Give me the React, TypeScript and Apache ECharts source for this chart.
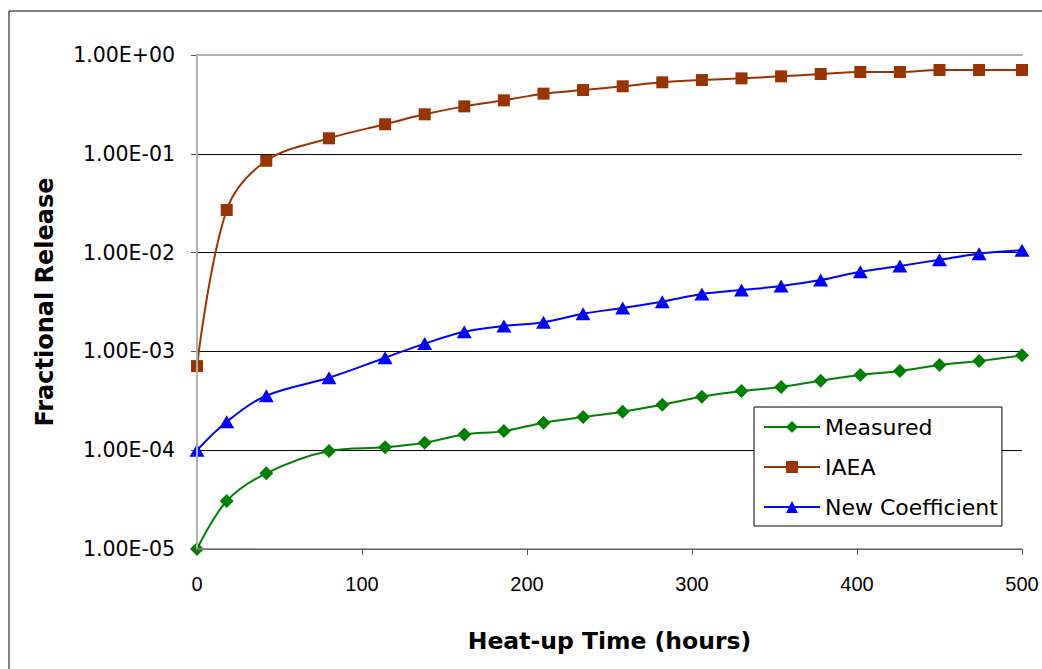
import React, { useEffect, useRef } from "react";
import * as echarts from "echarts";

const hours = [0, 18, 42, 80, 114, 138, 162, 186, 210, 234, 258, 282, 306, 330, 354, 378, 402, 426, 450, 474, 500];

const measured = [1.0e-5, 3.06e-5, 5.84e-5, 9.8e-5, 1.07e-4, 1.19e-4, 1.44e-4, 1.56e-4, 1.9e-4, 2.17e-4, 2.45e-4, 2.89e-4, 3.48e-4, 3.97e-4, 4.36e-4, 5.05e-4, 5.77e-4, 6.33e-4, 7.28e-4, 8.0e-4, 9.12e-4];

const iaea = [7.1e-4, 0.027, 0.085, 0.1435, 0.199, 0.251, 0.302, 0.348, 0.406, 0.442, 0.482, 0.529, 0.558, 0.58, 0.608, 0.642, 0.673, 0.673, 0.705, 0.705, 0.705];

const newCoefficient = [1.0e-4, 1.94e-4, 3.56e-4, 5.42e-4, 8.63e-4, 1.2e-3, 1.58e-3, 1.81e-3, 1.97e-3, 2.41e-3, 2.75e-3, 3.18e-3, 3.81e-3, 4.18e-3, 4.59e-3, 5.28e-3, 6.41e-3, 7.32e-3, 8.47e-3, 9.75e-3, 1.055e-2];

const yTickLabels: Record<number, string> = {
  [-5]: "1.00E-05",
  [-4]: "1.00E-04",
  [-3]: "1.00E-03",
  [-2]: "1.00E-02",
  [-1]: "1.00E-01",
  0: "1.00E+00",
};

const seriesNames = ["Measured", "IAEA", "New Coefficient"];
const xTitle = "Heat-up Time (hours)";
const yTitle = "Fractional Release";

const pairs = (ys: number[]) => hours.map((h, i) => [h, ys[i]]);

export default function App() {
  const ref = useRef<HTMLDivElement>(null);
  useEffect(() => {
    if (!ref.current) return;
    const chart = echarts.init(ref.current, undefined, { renderer: "svg" });
    const lineBase = { type: "line", smooth: 0.35, showSymbol: true };
    chart.setOption({
      animation: false,
      backgroundColor: "#ffffff",
      grid: { left: 197, top: 55, width: 825, height: 494, containLabel: false },
      graphic: [
        {
          type: "rect",
          shape: { x: 9, y: 11, width: 1200, height: 800 },
          style: { fill: "none", stroke: "#000000", lineWidth: 1 },
          silent: true,
        },
      ],
      legend: {
        orient: "vertical",
        left: 754,
        top: 407,
        data: seriesNames,
        itemWidth: 56,
        itemHeight: 15,
        itemGap: 18,
        padding: [9, 4, 8, 9],
        backgroundColor: "#ffffff",
        borderColor: "#000000",
        borderWidth: 1,
        borderRadius: 0,
        textStyle: { fontFamily: "DejaVu Sans", fontSize: 22, color: "#000000" },
      },
      xAxis: [
        {
          type: "value",
          min: 0,
          max: 500,
          interval: 100,
          z: 5,
          axisLine: { show: true, lineStyle: { color: "#888888", width: 1.5 } },
          axisTick: { show: true, inside: false, length: 6, lineStyle: { color: "#555555" } },
          axisLabel: { margin: 25, fontFamily: "Liberation Sans", fontSize: 20, color: "#000000" },
          splitLine: { show: false },
          name: xTitle,
          nameLocation: "middle",
          nameGap: 80,
          nameTextStyle: { fontFamily: "DejaVu Sans", fontWeight: "bold", fontSize: 23.5, color: "#000000" },
        },
        {
          type: "value",
          position: "top",
          min: 0,
          max: 500,
          z: 5,
          axisLine: { show: true, onZero: false, lineStyle: { color: "#b0b0b0", width: 2 } },
          axisTick: { show: false },
          axisLabel: { show: false },
          splitLine: { show: false },
        },
      ],
      yAxis: [
        {
          type: "log",
          logBase: 10,
          min: 1e-5,
          max: 1,
          z: 3,
          axisLine: { show: true, lineStyle: { color: "#555555", width: 1.5 } },
          axisTick: { show: true, inside: false, length: 6, lineStyle: { color: "#555555" } },
          axisLabel: {
            margin: 22,
            fontFamily: "DejaVu Sans",
            fontSize: 20.5,
            color: "#000000",
            formatter: (v: number) => yTickLabels[Math.round(Math.log10(v))] ?? "",
          },
          splitLine: { show: true, lineStyle: { color: "#000000", width: 1 } },
          minorTick: { show: false },
          name: yTitle,
          nameLocation: "middle",
          nameGap: 140,
          nameTextStyle: { fontFamily: "DejaVu Sans", fontWeight: "bold", fontSize: 24, color: "#000000" },
        },
        {
          type: "log",
          logBase: 10,
          position: "right",
          min: 1e-5,
          max: 1,
          z: 5,
          axisLine: { show: true, lineStyle: { color: "#b0b0b0", width: 2 } },
          axisTick: { show: false },
          axisLabel: { show: false },
          splitLine: { show: false },
        },
      ],
      series: [
        {
          ...lineBase,
          name: seriesNames[0],
          data: pairs(measured),
          symbol: "diamond",
          symbolSize: 14,
          color: "#008000",
          lineStyle: { color: "#008000", width: 2 },
          itemStyle: { color: "#008000" },
          z: 4,
        },
        {
          ...lineBase,
          name: seriesNames[1],
          data: pairs(iaea),
          symbol: "rect",
          symbolSize: 12,
          color: "#993300",
          lineStyle: { color: "#993300", width: 2 },
          itemStyle: { color: "#993300" },
          z: 3,
        },
        {
          ...lineBase,
          name: seriesNames[2],
          data: pairs(newCoefficient),
          symbol: "triangle",
          symbolSize: [15, 13],
          color: "#0000ff",
          lineStyle: { color: "#0000ff", width: 2 },
          itemStyle: { color: "#0000ff" },
          z: 3,
        },
      ],
    });
    return () => chart.dispose();
  }, []);
  return (
    <div
      ref={ref}
      style={{ position: "fixed", left: 0, top: 0, width: 1042, height: 669, background: "#ffffff" }}
    />
  );
}
